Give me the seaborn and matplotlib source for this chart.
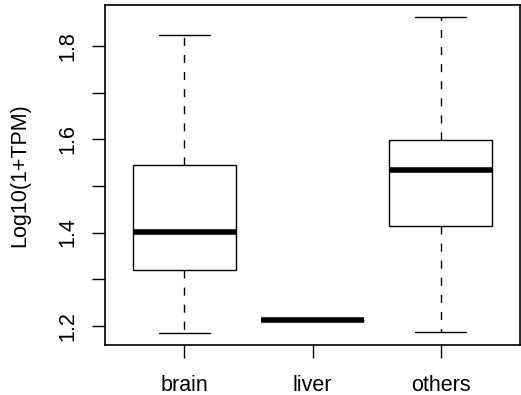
import pandas as pd
import numpy as np
import seaborn as sns
import matplotlib.pyplot as plt

# Box summaries: min, q1, median, q3, max
tissues = ['brain', 'liver', 'others']
brain = [1.185, 1.319, 1.402, 1.545, 1.824]
liver = [1.213, 1.213, 1.213, 1.213, 1.213]
others = [1.187, 1.413, 1.534, 1.599, 1.862]

df = pd.DataFrame({
    'tissue': np.repeat(tissues, 5),
    'value': brain + liver + others,
})

sns.set_style('white')
plt.rcParams['font.family'] = ['Liberation Sans', 'DejaVu Sans']
plt.rcParams['text.color'] = 'black'
plt.rcParams['xtick.color'] = 'black'
plt.rcParams['ytick.color'] = 'black'
plt.rcParams['axes.labelcolor'] = 'black'

fig = plt.figure(figsize=(5.21, 3.95), dpi=100)
ax = fig.add_axes([0.2015, 0.1266, 0.797, 0.861])

sns.boxplot(data=df, x='tissue', y='value', ax=ax, whis=(0, 100), width=0.8,
            color='white', linecolor='black', linewidth=1.0, saturation=1,
            medianprops=dict(linewidth=4, color='black', solid_capstyle='butt'),
            whiskerprops=dict(linestyle=(0, (5.8, 6.5)), linewidth=1.0),
            capprops=dict(linewidth=1.0))

ax.set_xlim(-0.62, 2.62)
ax.set_ylim(1.159, 1.888)
ax.set_yticks([1.2, 1.3, 1.4, 1.5, 1.6, 1.7, 1.8])
ax.set_yticklabels(['1.2', '', '1.4', '', '1.6', '', '1.8'], rotation=90, va='center')
ax.set_xlabel('')
ax.set_ylabel('Log10(1+TPM)', fontsize=15.5, labelpad=19)
ax.tick_params(axis='both', which='both', direction='out', length=9.4, width=1.0,
               labelsize=15.5, color='black', left=True, bottom=True)
ax.tick_params(axis='y', pad=10)
ax.tick_params(axis='x', pad=12)
for s in ax.spines.values():
    s.set_visible(True)
    s.set_color('black')
    s.set_linewidth(1.2)

plt.savefig('out.png', dpi=100)
plt.close()
